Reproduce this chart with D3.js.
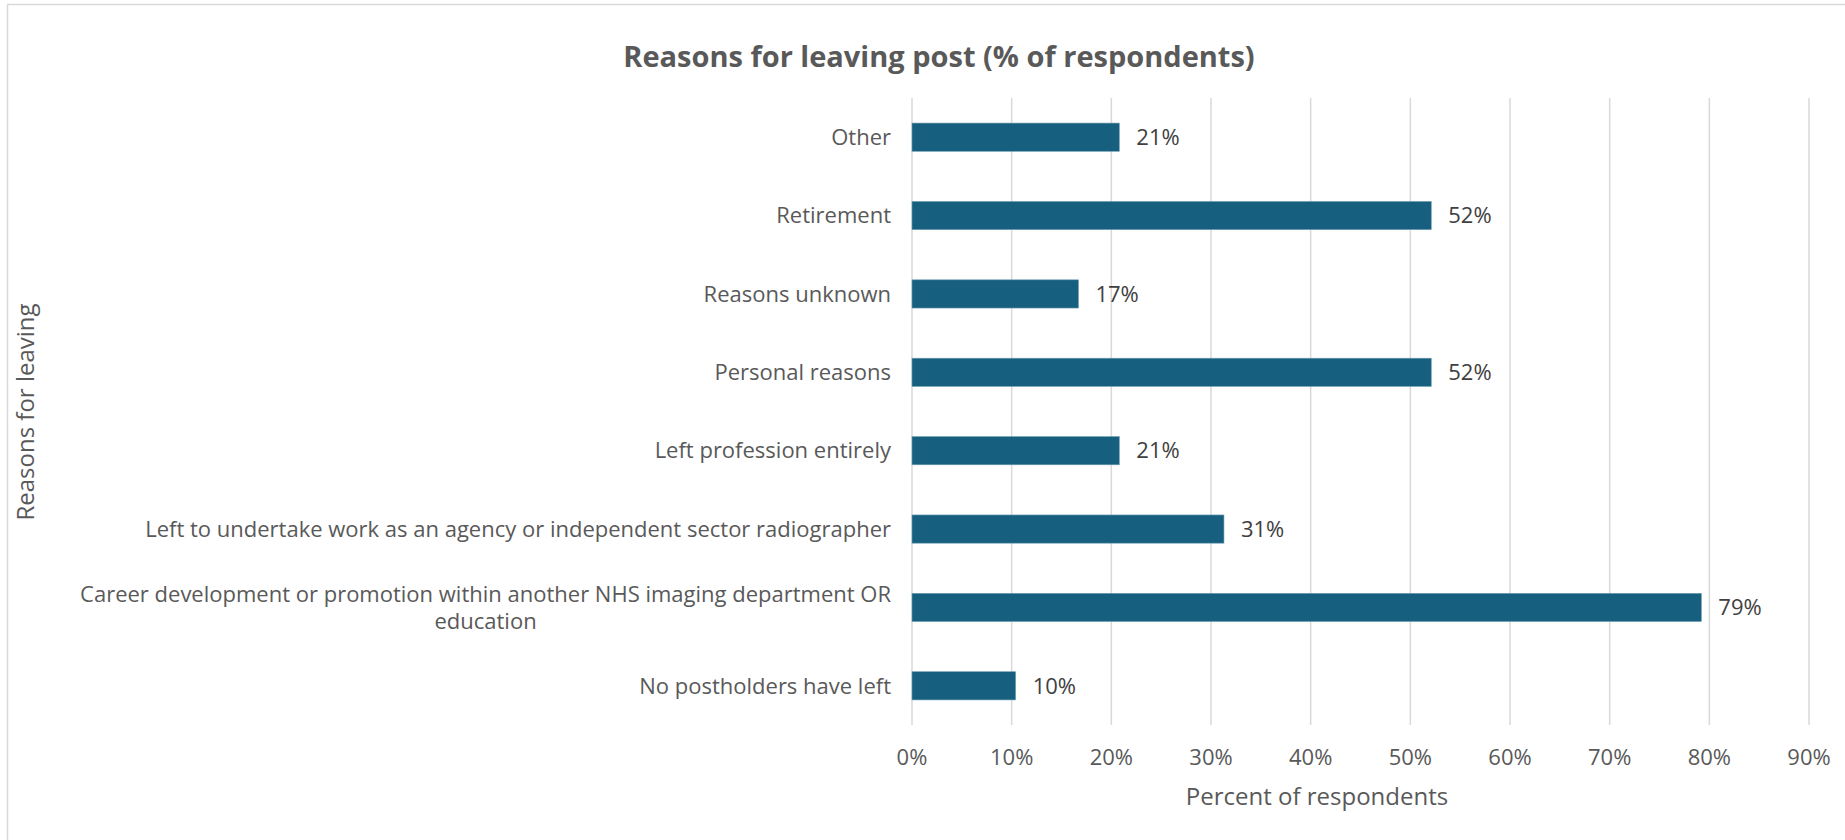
<!DOCTYPE html>
<html>
<head>
<meta charset="utf-8">
<script src="https://cdn.jsdelivr.net/npm/d3@7"></script>
<style>
  html, body { margin: 0; padding: 0; background: #fff; }
  svg { display: block; }
  text { font-family: "Open Sans", Roboto, sans-serif; fill: #595959; }
</style>
</head>
<body>
<svg id="chart" width="1845" height="840"></svg>
<script>
// Data, bottom to top
const categories = [
  'No postholders have left',
  'Career development or promotion within another NHS imaging department OR|education',
  'Left to undertake work as an agency or independent sector radiographer',
  'Left profession entirely',
  'Personal reasons',
  'Reasons unknown',
  'Retirement',
  'Other'
];
const values = [10.4, 79.2, 31.3, 20.8, 52.1, 16.7, 52.1, 20.8];
const valueLabels = ['10%', '79%', '31%', '21%', '52%', '17%', '52%', '21%'];
const tickValues = [0, 10, 20, 30, 40, 50, 60, 70, 80, 90];

const svg = d3.select('#chart');
const width = 1845, height = 840;

const plot = { left: 912, right: 1809, top: 98, bottom: 725 };

// chart border
svg.append('rect')
  .attr('x', 7.5).attr('y', 4.5)
  .attr('width', width).attr('height', height)
  .attr('fill', 'none').attr('stroke', '#d9d9d9').attr('stroke-width', 1.5);

const x = d3.scaleLinear().domain([0, 90]).range([plot.left, plot.right]);
const y = d3.scaleBand()
  .domain(categories.slice().reverse())
  .range([plot.top, plot.bottom])
  .paddingInner(0.64).paddingOuter(0.32);

// gridlines
svg.append('g')
  .selectAll('line')
  .data(tickValues)
  .join('line')
  .attr('x1', d => x(d)).attr('x2', d => x(d))
  .attr('y1', plot.top).attr('y2', plot.bottom)
  .attr('stroke', '#d9d9d9').attr('stroke-width', 1.5);

// x tick labels
svg.append('g')
  .selectAll('text')
  .data(tickValues)
  .join('text')
  .attr('x', d => x(d)).attr('y', 757)
  .attr('dy', '0.35em')
  .attr('text-anchor', 'middle')
  .style('font-size', '22px')
  .text(d => d + '%');

// bars
svg.append('g')
  .selectAll('rect')
  .data(categories)
  .join('rect')
  .attr('x', x(0))
  .attr('y', d => y(d))
  .attr('width', (d, i) => x(values[i]) - x(0))
  .attr('height', y.bandwidth())
  .attr('fill', '#175f7f')
  .attr('stroke', '#6f9db3').attr('stroke-width', 0.6);

// value labels
svg.append('g')
  .selectAll('text')
  .data(categories)
  .join('text')
  .attr('x', (d, i) => x(values[i]) + 17)
  .attr('y', d => y(d) + y.bandwidth() / 2)
  .attr('dy', '0.35em')
  .style('font-size', '22px')
  .style('fill', '#404040')
  .text((d, i) => valueLabels[i]);

// category labels (right-aligned block, multi-line centred within it)
const labelRight = 891;
categories.forEach(c => {
  const lines = c.split('|');
  const cy = y(c) + y.bandwidth() / 2;
  const g = svg.append('g');
  const lineH = 27;
  const texts = lines.map((ln, k) => g.append('text')
    .attr('y', cy + (k - (lines.length - 1) / 2) * lineH)
    .attr('dy', '0.35em')
    .style('font-size', '22px')
    .text(ln));
  const widths = texts.map(t => t.node().getComputedTextLength());
  const maxW = d3.max(widths);
  const centre = labelRight - maxW / 2;
  texts.forEach(t => t.attr('x', centre).attr('text-anchor', 'middle'));
});

// title
svg.append('text')
  .attr('x', 939).attr('y', 57)
  .attr('dy', '0.35em')
  .attr('text-anchor', 'middle')
  .style('font-size', '29px').style('font-weight', 'bold')
  .text('Reasons for leaving post (% of respondents)');

// axis titles
svg.append('text')
  .attr('x', 1317).attr('y', 797)
  .attr('dy', '0.35em')
  .attr('text-anchor', 'middle')
  .style('font-size', '24px')
  .text('Percent of respondents');

svg.append('text')
  .attr('transform', 'translate(26,412) rotate(-90)')
  .attr('dy', '0.35em')
  .attr('text-anchor', 'middle')
  .style('font-size', '24px')
  .text('Reasons for leaving');
</script>
</body>
</html>
